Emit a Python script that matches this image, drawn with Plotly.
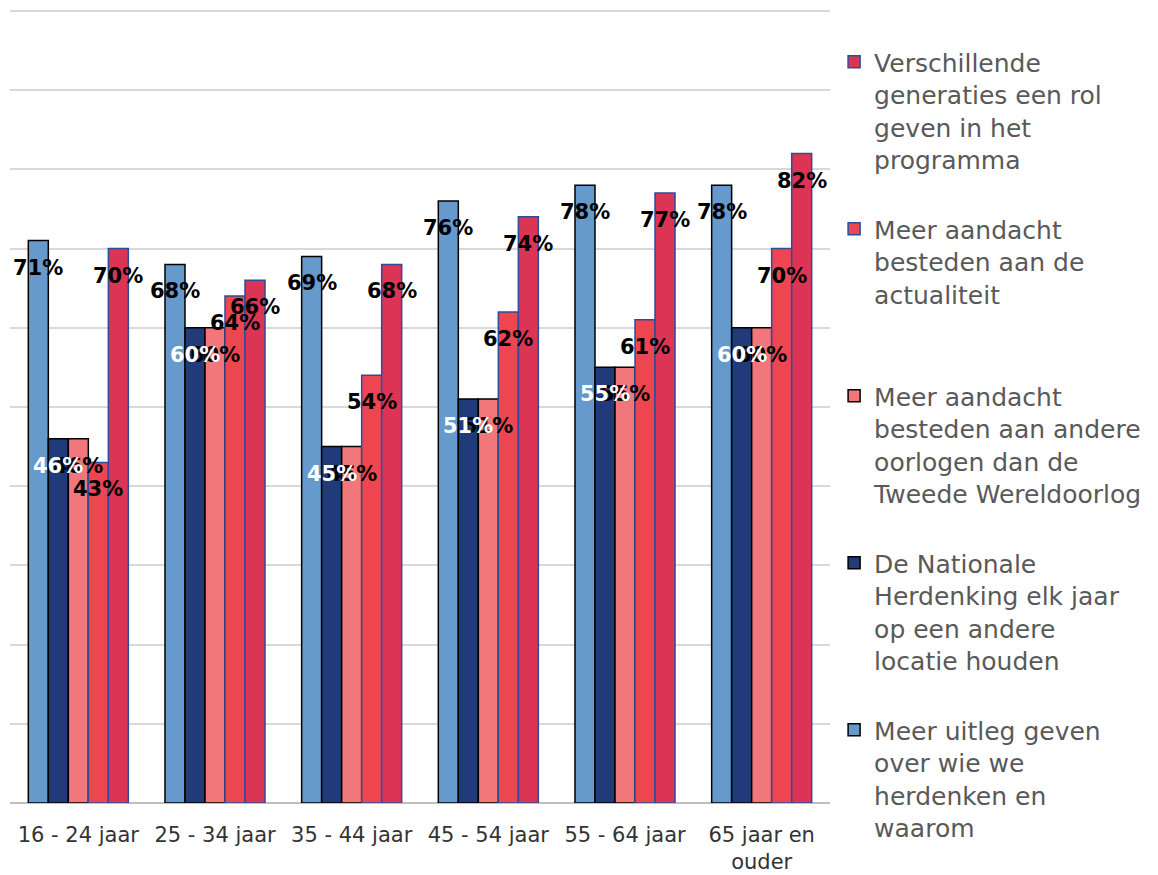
import plotly.graph_objects as go

categories = ["16 - 24 jaar", "25 - 34 jaar", "35 - 44 jaar", "45 - 54 jaar", "55 - 64 jaar", "65 jaar en<br>ouder"]

uitleg = [71, 68, 69, 76, 78, 78]
locatie = [46, 60, 45, 51, 55, 60]
oorlogen = [46, 60, 45, 51, 55, 60]
actualiteit = [43, 64, 54, 62, 61, 70]
generaties = [70, 66, 68, 74, 77, 82]

names = [
    "Meer uitleg geven<br>over wie we<br>herdenken en<br>waarom",
    "De Nationale<br>Herdenking elk jaar<br>op een andere<br>locatie houden",
    "Meer aandacht<br>besteden aan andere<br>oorlogen dan de<br>Tweede Wereldoorlog",
    "Meer aandacht<br>besteden aan de<br>actualiteit<br>\u00a0",
    "Verschillende<br>generaties een rol<br>geven in het<br>programma",
]
series = [uitleg, locatie, oorlogen, actualiteit, generaties]
colors = ["#6699CC", "#203A7A", "#F1777A", "#EE4650", "#DC3454"]
outlines = ["#000000", "#000000", "#000000", "#2E4C9A", "#2E4C9A"]
label_colors = ["#000000", "#FFFFFF", "#000000", "#000000", "#000000"]

W, H = 1158, 875
ML, MR, MT, MB = 10, 328, 3, 72
BARGAP = 0.268
YMAX = 101

fig = go.Figure()
for i, (vals, nm) in enumerate(zip(series, names)):
    fig.add_trace(go.Bar(
        x=categories, y=vals, name=nm,
        marker=dict(color=colors[i], line=dict(color=outlines[i], width=1.5)),
        legendgroup=f"g{i}", legendrank=len(series) - i,
        hoverinfo="skip",
    ))

plot_w = W - ML - MR
band = plot_w / len(categories)
bar_px = band * (1 - BARGAP) / len(series)

# label draw order: navy (index 1) last so it is on top
order = [0, 2, 3, 4, 1]
annotations = []
for i in order:
    for c, v in zip(categories, series[i]):
        annotations.append(dict(
            x=c, y=v, xref="x", yref="y",
            text=f"<b>{v}%</b>", showarrow=False,
            xshift=(i - 2) * bar_px, yshift=-27,
            yanchor="middle", xanchor="center",
            font=dict(family="DejaVu Sans", size=21, color=label_colors[i]),
        ))

fig.update_layout(
    width=W, height=H,
    margin=dict(l=ML, r=MR, t=MT, b=MB),
    plot_bgcolor="white", paper_bgcolor="white",
    barmode="group", bargap=BARGAP, bargroupgap=0,
    showlegend=True,
    legend=dict(
        x=1.005, xanchor="left", y=0.955, yanchor="top",
        traceorder="grouped", tracegroupgap=34,
        valign="top", maxheight=900,
        font=dict(family="DejaVu Sans", size=25, color="#595959"),
    ),
    annotations=annotations,
    xaxis=dict(
        showgrid=False, showline=False, ticks="", automargin=False,
        tickfont=dict(family="DejaVu Sans", size=21, color="#333333"),
        ticklabelstandoff=17,
    ),
    yaxis=dict(
        range=[0, YMAX], tick0=0, dtick=10, showticklabels=False, automargin=False,
        showgrid=True, gridcolor="#D9D9D9", gridwidth=2,
        zeroline=True, zerolinecolor="#BFBFBF", zerolinewidth=2,
    ),
)

fig.write_html("out.html", config={"displayModeBar": False},
               post_script="document.body.style.margin='0';")
